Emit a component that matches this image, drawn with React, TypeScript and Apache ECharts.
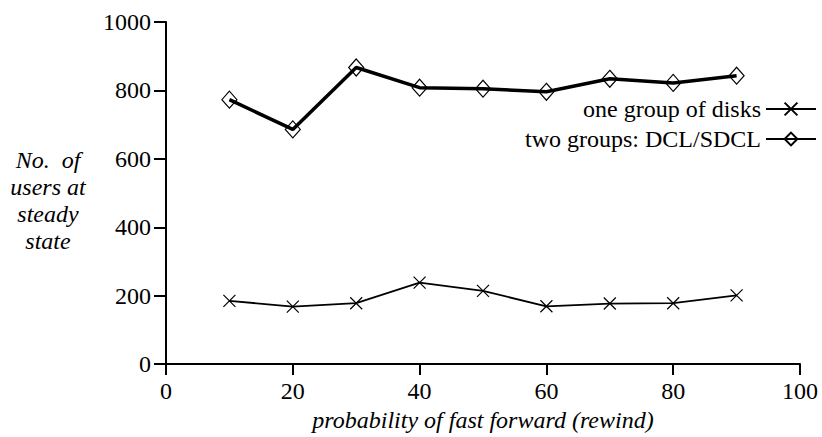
import React, { useEffect, useRef } from "react";
import * as echarts from "echarts";

const xValues = [10, 20, 30, 40, 50, 60, 70, 80, 90];
const oneGroup = [185, 168, 178, 238, 214, 169, 177, 178, 201];
const twoGroups = [773, 686, 867, 808, 805, 796, 834, 822, 843];
const yTicks = [0, 200, 400, 600, 800, 1000];
const xTicks = [0, 20, 40, 60, 80, 100];
const seriesNames = ["one group of disks", "two groups: DCL/SDCL"];
const yTitleLines = ["No.  of", "users at", "steady", "state"];
const xTitle = "probability of fast forward (rewind)";

const FONT = "'Liberation Serif', 'DejaVu Serif', serif";
const FS = 24;

export default function App() {
  const ref = useRef<HTMLDivElement>(null);
  useEffect(() => {
    if (!ref.current) return;
    const chart = echarts.init(ref.current, null, { renderer: "svg" });
    chart.setOption({
      animation: false,
      backgroundColor: "#fff",
      textStyle: { fontFamily: FONT, color: "#000" },
      grid: { left: 166, right: 22, top: 22, bottom: 69, containLabel: false },
      xAxis: {
        type: "value",
        min: xTicks[0],
        max: xTicks[xTicks.length - 1],
        interval: 20,
        name: xTitle,
        nameLocation: "middle",
        nameGap: 42,
        nameTextStyle: { fontFamily: FONT, fontSize: FS, fontStyle: "italic", color: "#000" },
        axisLine: { show: true, lineStyle: { color: "#000", width: 2 } },
        axisTick: { show: true, length: 11, lineStyle: { color: "#000", width: 2 } },
        axisLabel: { margin: 15, fontFamily: FONT, fontSize: FS, color: "#000", formatter: (v: number) => String(v) },
        splitLine: { show: false },
      },
      yAxis: {
        type: "value",
        min: yTicks[0],
        max: yTicks[yTicks.length - 1],
        interval: 200,
        axisLine: { show: true, lineStyle: { color: "#000", width: 2 } },
        axisTick: { show: true, length: 12, lineStyle: { color: "#000", width: 2 } },
        axisLabel: { margin: 15, fontFamily: FONT, fontSize: FS, color: "#000", formatter: (v: number) => String(v) },
        splitLine: { show: false },
      },
      legend: {
        orient: "vertical",
        right: 0,
        top: 92,
        align: "right",
        itemWidth: 50,
        itemHeight: 16,
        itemGap: 6,
        textStyle: { fontFamily: FONT, fontSize: FS, color: "#000", lineHeight: 24 },
        data: seriesNames,
      },
      graphic: [
        {
          type: "text",
          x: 48,
          y: 200,
          style: {
            text: yTitleLines.join("\n"),
            fontFamily: FONT,
            fontSize: FS,
            fontStyle: "italic",
            fill: "#000",
            align: "center",
            verticalAlign: "middle",
            lineHeight: 27,
          },
        },
      ],
      series: [
        {
          name: seriesNames[0],
          type: "line",
          data: xValues.map((x, i) => [x, oneGroup[i]]),
          symbol: "path://M0,0L10,10M10,0L0,10",
          symbolSize: 12,
          showSymbol: true,
          lineStyle: { color: "#000", width: 1.8 },
          itemStyle: { color: "none", borderColor: "#000", borderWidth: 1.2 },
        },
        {
          name: seriesNames[1],
          type: "line",
          data: xValues.map((x, i) => [x, twoGroups[i]]),
          symbol: "diamond",
          symbolSize: [15, 17],
          showSymbol: true,
          lineStyle: { color: "#000", width: 3.5 },
          itemStyle: { color: "rgba(255,255,255,0)", borderColor: "#000", borderWidth: 1.2 },
          z: 3,
        },
      ],
    });
    return () => chart.dispose();
  }, []);
  return (
    <div
      ref={ref}
      style={{ width: 822, height: 437, position: "absolute", left: 0, top: 0 }}
    />
  );
}
